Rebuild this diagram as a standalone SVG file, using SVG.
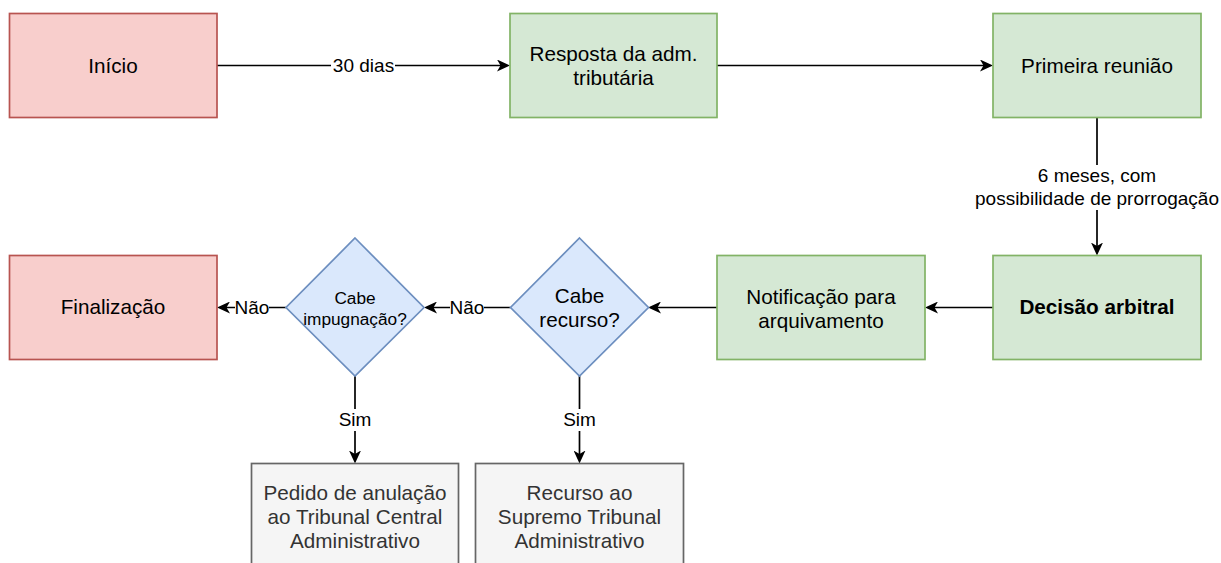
<svg xmlns="http://www.w3.org/2000/svg" width="1221" height="563" viewBox="0 0 1221 563">
<style>
text{font-family:"Liberation Sans",Arial,Helvetica,sans-serif;text-anchor:middle;fill:#000}
.n{font-size:20.7px}
.s{font-size:17.25px}
.lbl{font-size:19px}
.b{font-weight:bold}
.red{fill:#f8cecc;stroke:#b85450;stroke-width:1.7}
.grn{fill:#d5e8d4;stroke:#82b366;stroke-width:1.7}
.blu{fill:#dae8fc;stroke:#6c8ebf;stroke-width:1.7}
.gry{fill:#f5f5f5;stroke:#666666;stroke-width:1.7}
.gt{fill:#333333}
.e{fill:none;stroke:#000;stroke-width:1.7;marker-end:url(#arr)}
.bg{fill:#fff}
</style>
<defs>
<marker id="arr" viewBox="0 0 13 12" refX="9" refY="6" markerWidth="13" markerHeight="12" markerUnits="userSpaceOnUse" orient="auto">
<path d="M0,0 L13,6 L0,12 L3.5,6 Z" fill="#000"/>
</marker>
</defs>
<rect width="1221" height="563" fill="#fff"/>
<g id="connectors">
<path class="e" d="M217,65.5 H506"/>
<rect class="bg" x="331" y="55" width="64" height="22"/>
<text class="lbl" x="363.5" y="71.5">30 dias</text>
<path class="e" d="M717,65.5 H989"/>
<path class="e" d="M1097,117.5 V251.5"/>
<rect class="bg" x="973" y="165" width="246" height="45"/>
<text class="lbl" x="1097" y="182">6 meses, com</text>
<text class="lbl" x="1097" y="205">possibilidade de prorrogação</text>
<path class="e" d="M993,307.5 H929"/>
<path class="e" d="M717,307.5 H652"/>
<path class="e" d="M510.5,307.5 H428"/>
<rect class="bg" x="450" y="297" width="34" height="22"/>
<text class="lbl" x="467" y="314">Não</text>
<path class="e" d="M286,307.5 H221"/>
<rect class="bg" x="235" y="297" width="34" height="22"/>
<text class="lbl" x="252" y="314">Não</text>
<path class="e" d="M355,376 V459.5"/>
<rect class="bg" x="338" y="409" width="34" height="22"/>
<text class="lbl" x="355" y="426">Sim</text>
<path class="e" d="M579.5,376 V459.5"/>
<rect class="bg" x="562" y="409" width="35" height="22"/>
<text class="lbl" x="579.5" y="426">Sim</text>
</g>
<g id="inicio">
<rect class="red" x="9.5" y="13.5" width="207.5" height="104"/>
<text class="n" x="113" y="73">Início</text>
</g>
<g id="resposta">
<rect class="grn" x="510" y="13.5" width="207" height="104"/>
<text class="n" x="613.5" y="61">Resposta da adm.</text>
<text class="n" x="613.5" y="85">tributária</text>
</g>
<g id="primeira">
<rect class="grn" x="993" y="13.5" width="208" height="104"/>
<text class="n" x="1097" y="73">Primeira reunião</text>
</g>
<g id="decisao">
<rect class="grn" x="993" y="255.5" width="208" height="104"/>
<text class="n b" x="1097" y="314">Decisão arbitral</text>
</g>
<g id="notificacao">
<rect class="grn" x="717" y="255.5" width="208" height="104"/>
<text class="n" x="821" y="303.5">Notificação para</text>
<text class="n" x="821" y="327.5">arquivamento</text>
</g>
<g id="cabe-recurso">
<polygon class="blu" points="579.5,238 648.5,307.5 579.5,376 510.5,307.5"/>
<text class="n" x="579.5" y="302.5">Cabe</text>
<text class="n" x="579.5" y="326.5">recurso?</text>
</g>
<g id="cabe-impugnacao">
<polygon class="blu" points="355,238 424,307.5 355,376 286,307.5"/>
<text class="s" x="355" y="303.5">Cabe</text>
<text class="s" x="355" y="324.5">impugnação?</text>
</g>
<g id="finalizacao">
<rect class="red" x="9.5" y="255.5" width="207.5" height="104"/>
<text class="n" x="113" y="314">Finalização</text>
</g>
<g id="pedido">
<rect class="gry" x="251.5" y="463.5" width="207" height="104"/>
<text class="n gt" x="355" y="499.5">Pedido de anulação</text>
<text class="n gt" x="355" y="523.5">ao Tribunal Central</text>
<text class="n gt" x="355" y="547.5">Administrativo</text>
</g>
<g id="recurso-supremo">
<rect class="gry" x="475.5" y="463.5" width="208" height="104"/>
<text class="n gt" x="579.5" y="499.5">Recurso ao</text>
<text class="n gt" x="579.5" y="523.5">Supremo Tribunal</text>
<text class="n gt" x="579.5" y="547.5">Administrativo</text>
</g>
</svg>
